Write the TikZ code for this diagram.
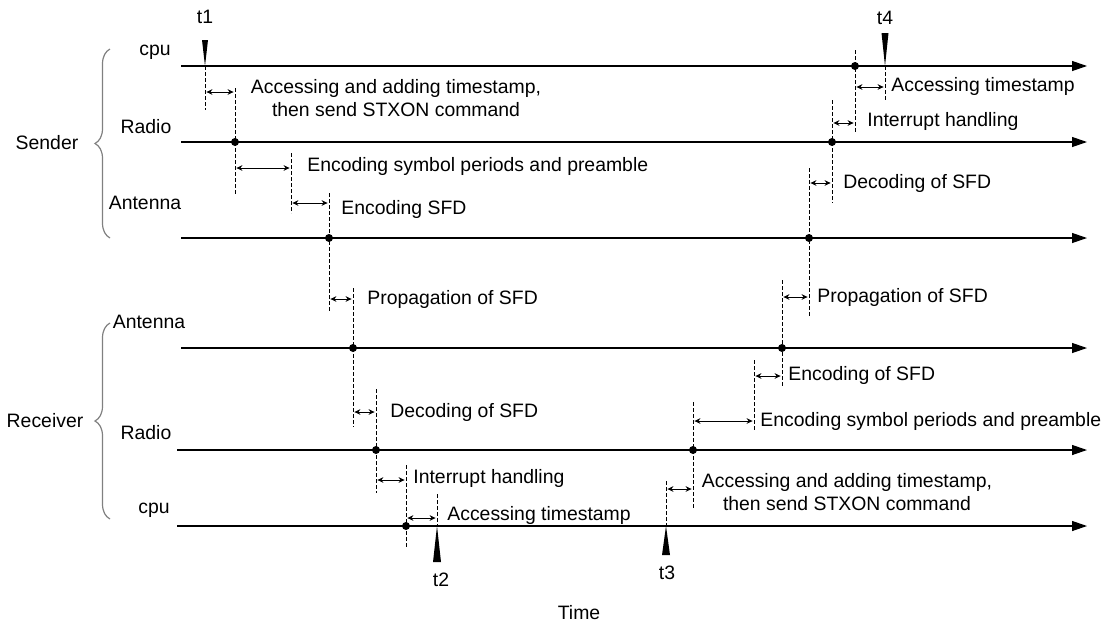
\documentclass[tikz,border=0pt]{standalone}
\usepackage{fontspec}
\setmainfont{Liberation Sans}
\usetikzlibrary{arrows.meta, decorations.pathreplacing, positioning}

\begin{document}
\begin{tikzpicture}[
    x=0.5pt, y=-0.5pt,
    font=\fontsize{9.7}{11.6}\selectfont,
    timeline/.style={line width=0.6pt, -{Triangle[length=7.5pt, width=5pt]}},
    tick/.style={line width=0.45pt, dash pattern=on 2pt off 1pt},
    span/.style={line width=0.5pt, {Stealth[length=3pt, width=2.8pt]}-{Stealth[length=3pt, width=2.8pt]}, shorten <=0.7pt, shorten >=0.7pt},
    evdot/.style={circle, fill, inner sep=0pt, minimum size=4pt},
    lbl/.style={inner sep=0pt},
    note/.style={inner sep=0pt, anchor=west},
    grpbrace/.style={draw=gray, line width=0.6pt, decorate, decoration={brace, amplitude=7.5pt}}
]
    \useasboundingbox (0,0) rectangle (1107,627);

    % ================= TIMELINES =================
    \foreach \n/\xs/\y in {sCpu/181/66, sRadio/181/142, sAnt/181/238, rAnt/181/348, rRadio/177/450, rCpu/177/526}{
        \coordinate (\n-s) at (\xs,\y);
        \coordinate (\n-e) at (1087,\y);
        \draw[timeline] (\n-s) -- (\n-e);
    }

    % ================= ROW LABELS & BRACES =================
    \node[lbl] (lsCpu) at (155,52) {cpu};
    \node[lbl] (lsRadio) at (146,127) {Radio};
    \node[lbl] (lsAnt) at (145,203) {Antenna};
    \node[lbl] (lrAnt) at (149,322) {Antenna};
    \node[lbl] (lrRadio) at (146,433) {Radio};
    \node[lbl] (lrCpu) at (154,510) {cpu};

    \coordinate (sbTop) at (110,49);
    \coordinate (sbBot) at (110,238);
    \coordinate (rbTop) at (110,323);
    \coordinate (rbBot) at (110,519);
    \draw[grpbrace] (sbBot) -- (sbTop);
    \draw[grpbrace] (rbBot) -- (rbTop);
    \node[lbl] (sender) at (47,143) {Sender};
    \node[lbl] (receiver) at (45,421) {Receiver};

    % ================= EVENTS =================
    % dashed event lines: name/x/top/bottom
    \foreach \n/\x/\ya/\yb in {d1/205/66/110, d2/235/88/195, d3/291/153/213, d4/329/193/312,
        d5/353/288/427, d6/376/389/493, d7/406/465/547, d8/437/494/526,
        d9/666/481/526, d10/693/402/508, d11/754/360/431, d12/782/280/387,
        d13/809/168/317, d14/832/100/203, d15/855/50/133, d16/885/66/100}{
        \coordinate (\n t) at (\x,\ya);
        \coordinate (\n b) at (\x,\yb);
        \draw[tick] (\n t) -- (\n b);
    }

    % event dots on the timelines
    \node[evdot] (p1) at (235,142) {};
    \node[evdot] (p2) at (329,238) {};
    \node[evdot] (p3) at (353,348) {};
    \node[evdot] (p4) at (376,450) {};
    \node[evdot] (p5) at (406,526) {};
    \node[evdot] (p6) at (693,450) {};
    \node[evdot] (p7) at (782,348) {};
    \node[evdot] (p8) at (809,238) {};
    \node[evdot] (p9) at (832,142) {};
    \node[evdot] (p10) at (855,66) {};

    % ================= DURATIONS =================
    \foreach \n/\xa/\xb/\y in {s1/205/235/92, s2/235/291/168, s3/291/329/203, s4/329/353/299,
        s5/353/376/412, s6/376/406/480, s7/406/437/518, s8/666/693/489,
        s9/693/754/421, s10/754/782/376, s11/782/809/297, s12/809/832/183,
        s13/832/855/123, s14/855/885/87}{
        \coordinate (\n l) at (\xa,\y);
        \coordinate (\n r) at (\xb,\y);
        \draw[span] (\n l) -- (\n r);
    }

    % --- sender side ---
    \node[lbl, align=center] (n1) at (396,98) {Accessing and adding timestamp,\\then send STXON command};
    \node[note] (n2) at (307,166) {Encoding symbol periods and preamble};
    \node[note] (n3) at (341,209) {Encoding SFD};
    \node[note] (n4) at (367,299) {Propagation of SFD};
    \node[note] (n5) at (390,412) {Decoding of SFD};
    \node[note] (n6) at (413,478) {Interrupt handling};
    \node[note] (n7) at (447,515) {Accessing timestamp};

    % --- receiver side ---
    \node[lbl, align=center] (n8) at (847,492) {Accessing and adding timestamp,\\then send STXON command};
    \node[note] (n9) at (760,421) {Encoding symbol periods and preamble};
    \node[note] (n10) at (788,375) {Encoding of SFD};
    \node[note] (n11) at (817,297) {Propagation of SFD};
    \node[note] (n12) at (843,183) {Decoding of SFD};
    \node[note] (n13) at (867,121) {Interrupt handling};
    \node[note] (n14) at (891,86) {Accessing timestamp};

    % ================= TIMESTAMP MARKERS =================
    \fill (d1t) -- ++(-3,-26) -- ++(6,0) -- cycle;
    \fill (d16t) -- ++(-3.5,-33) -- ++(7,0) -- cycle;
    \fill (d8b) -- ++(-4,36) -- ++(8,0) -- cycle;
    \fill (d9b) -- ++(-4,29) -- ++(8,0) -- cycle;
    \node[lbl] (t1) at (205,17) {t1};
    \node[lbl] (t4) at (885,18) {t4};
    \node[lbl] (t2) at (441,580) {t2};
    \node[lbl] (t3) at (667,573) {t3};

    \node[lbl] (time) at (579,613) {Time};

\end{tikzpicture}
\end{document}
